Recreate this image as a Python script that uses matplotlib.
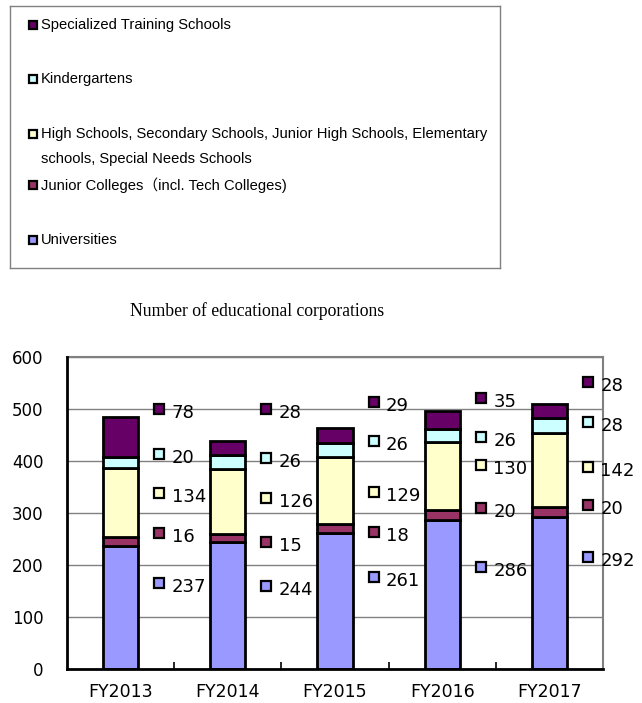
import matplotlib.pyplot as plt
import numpy as np

years = ['FY2013', 'FY2014', 'FY2015', 'FY2016', 'FY2017']
universities = [237, 244, 261, 286, 292]
junior_colleges = [16, 15, 18, 20, 20]
high_schools = [134, 126, 129, 130, 142]
kindergartens = [20, 26, 26, 26, 28]
specialized = [78, 28, 29, 35, 28]

names = ['Universities', 'Junior Colleges（incl. Tech Colleges)',
         'High Schools, Secondary Schools, Junior High Schools, Elementary\nschools, Special Needs Schools',
         'Kindergartens', 'Specialized Training Schools']
colors = ['#9999ff', '#993366', '#ffffcc', '#ccffff', '#660066']

# where the value labels sit (data units), per series, bottom to top
label_y = [[165, 160, 177, 196, 215],
           [261, 244, 264, 309, 315],
           [338, 329, 341, 392, 388],
           [413, 406, 438, 446, 475],
           [500, 500, 514, 521, 552]]

series = [universities, junior_colleges, high_schools, kindergartens, specialized]

fig = plt.figure(figsize=(6.42, 7.03), dpi=100)
ax = fig.add_axes([67/642, 34/703, 536/642, 312/703])

x = np.arange(len(years))
bottom = np.zeros(len(years))
for vals, c in zip(series, colors):
    ax.bar(x, vals, 0.33, bottom=bottom, color=c, edgecolor='black', linewidth=2, zorder=3)
    bottom += np.array(vals)

for vals, c, ly in zip(series, colors, label_y):
    ax.plot(x + 0.36, ly, ls='none', marker='s', ms=6.5, mfc=c, mec='black', mew=1.6, zorder=4, clip_on=False)
    for xi, v, yy in zip(x, vals, ly):
        ax.annotate(str(v), (xi + 0.36, yy), xytext=(9, -3), textcoords='offset points',
                    va='center', ha='left', fontsize=13, family='DejaVu Sans', annotation_clip=False)

ax.set_xlim(-0.5, 4.5)
ax.set_ylim(0, 600)
ax.set_yticks(range(0, 601, 100))
ax.set_xticks(x)
ax.set_xticklabels(years, fontsize=12.5)
ax.set_xticks(x[:-1] + 0.5, minor=True)
ax.tick_params(axis='x', which='major', length=0, pad=10)
ax.tick_params(axis='x', which='minor', direction='in', length=5, width=1.2)
ax.tick_params(axis='y', length=0, pad=17, labelsize=12)
ax.yaxis.grid(True, color='#808080', lw=1)
ax.set_axisbelow(True)
for s in ['left', 'bottom']:
    ax.spines[s].set_linewidth(2)
    ax.spines[s].set_zorder(5)
for s in ['top', 'right']:
    ax.spines[s].set_color('#808080')
    ax.spines[s].set_linewidth(1.5)

fig.text(130/642, 1 - 311/703, 'Number of educational corporations', family='Liberation Serif',
         fontsize=12.7, va='center', ha='left')

# legend box drawn by hand, layout in pixels of the box
lax = fig.add_axes([10/642, 1 - 268/703, 490/642, 262/703])
lax.set_xlim(0, 490)
lax.set_ylim(262, 0)
lax.set_xticks([])
lax.set_yticks([])
for s in lax.spines.values():
    s.set_color('#808080')
    s.set_linewidth(1)
row_y = [234, 179, 140.5, 73, 19]
for name, c, ry in zip(names, colors, row_y):
    my = ry - 12.5 if '\n' in name else ry
    lax.plot(23, my, ls='none', marker='s', ms=6, mfc=c, mec='black', mew=1.6)
    lax.text(31, ry, name, va='center', ha='left', fontsize=10.6,
             family=['Liberation Sans', 'Noto Sans CJK JP'], linespacing=2.0)

fig.savefig('out.png', dpi=100)
